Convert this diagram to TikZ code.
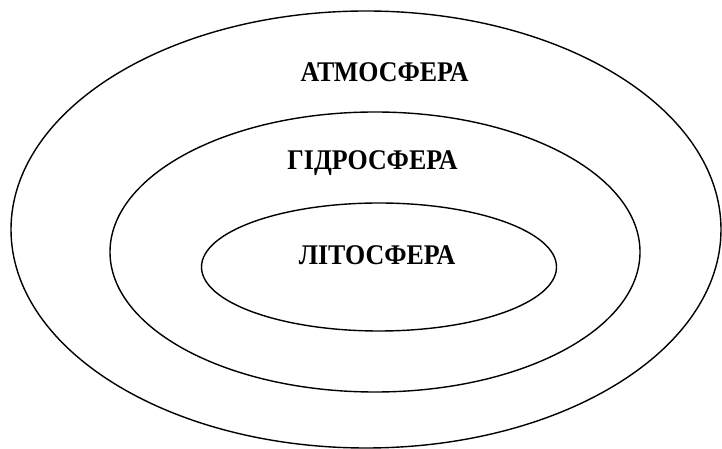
\documentclass[tikz,border=0pt]{standalone}
\usepackage{fontspec}
\setmainfont{Liberation Serif}
\newfontfamily\labelfont[FakeStretch=0.91]{Liberation Serif}
\usetikzlibrary{shapes.geometric}
\begin{document}
\begin{tikzpicture}[x=1pt,y=1pt,
  sphere/.style={draw=black, line width=1.4pt, shape=ellipse, inner sep=0pt},
  label/.style={font=\labelfont\fontsize{28.5}{32}\selectfont\bfseries, anchor=base, inner sep=0pt}]
\useasboundingbox (0,0) rectangle (722,449);
\node[sphere, minimum width=710pt, minimum height=437pt] (atmo) at (366,219.5) {};
\node[sphere, minimum width=530pt, minimum height=280pt] (hydro) at (375,197) {};
\node[sphere, minimum width=355pt, minimum height=128pt] (litho) at (379,182) {};
\node[label] (tatmo) at (384.5,367) {АТМОСФЕРА};
\node[label] (thydro) at (372.5,279) {ГІДРОСФЕРА};
\node[label] (tlitho) at (377,184) {ЛІТОСФЕРА};
\end{tikzpicture}
\end{document}
